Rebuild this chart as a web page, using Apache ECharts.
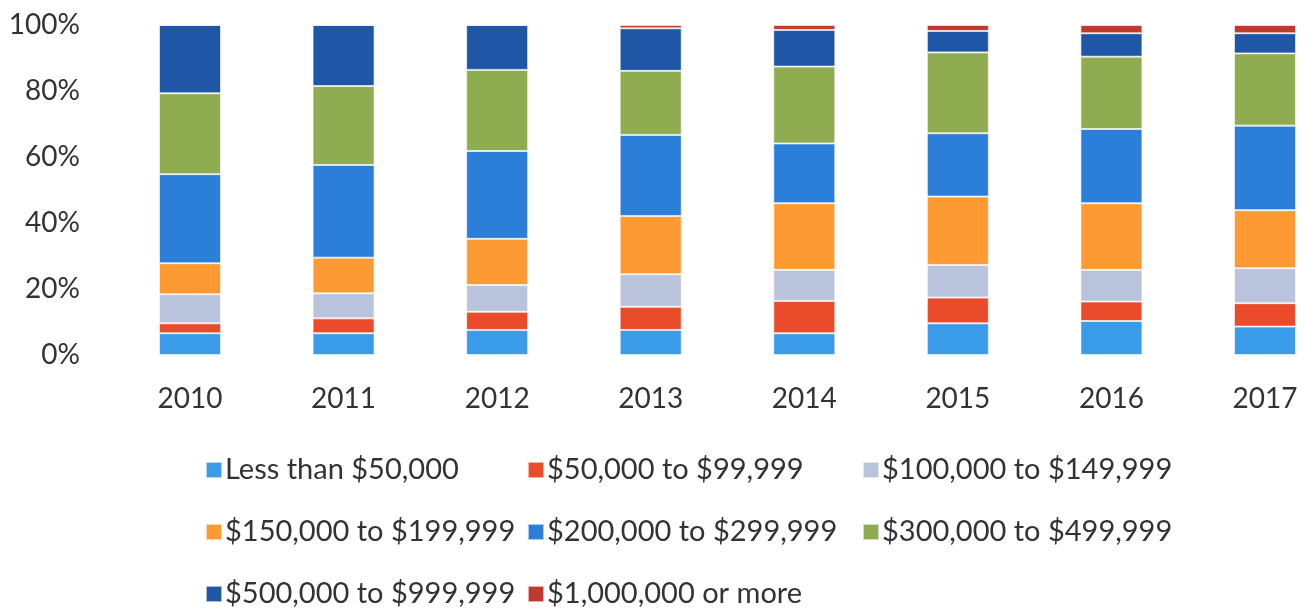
<!DOCTYPE html>
<html>
<head>
<meta charset="utf-8">
<script src="https://cdn.jsdelivr.net/npm/echarts@6/dist/echarts.min.js"></script>
<style>
  html, body { margin: 0; padding: 0; background: #fff; }
  #main { width: 1310px; height: 612px; }
</style>
</head>
<body>
<div id="main"></div>
<script>
// years on the x axis
const years = ['2010', '2011', '2012', '2013', '2014', '2015', '2016', '2017'];
// legend names, bottom of the stack first
const seriesNames = [
  'Less than $50,000', '$50,000 to $99,999', '$100,000 to $149,999',
  '$150,000 to $199,999', '$200,000 to $299,999', '$300,000 to $499,999',
  '$500,000 to $999,999', '$1,000,000 or more'
];
// share of each band per year (%)
const lessThan50k = [6.6, 6.6, 7.6, 7.6, 6.6, 9.6, 10.3, 8.6];
const from50k = [3.0, 4.5, 5.5, 7.0, 9.8, 7.8, 5.9, 7.1];
const from100k = [8.8, 7.6, 8.1, 9.9, 9.4, 9.9, 9.6, 10.6];
const from150k = [9.4, 10.8, 14.0, 17.6, 20.2, 20.7, 20.2, 17.6];
const from200k = [27.0, 28.1, 26.6, 24.6, 18.1, 19.2, 22.5, 25.6];
const from300k = [24.5, 23.9, 24.6, 19.4, 23.3, 24.5, 21.9, 21.9];
const from500k = [20.7, 18.5, 13.6, 12.9, 11.1, 6.5, 7.1, 6.1];
const over1m = [0, 0, 0, 1.0, 1.5, 1.8, 2.5, 2.5];
// y axis ticks
const yTicks = [0, 20, 40, 60, 80, 100];

const values = [lessThan50k, from50k, from100k, from150k, from200k, from300k, from500k, over1m];
const colors = ['#3a9be8', '#e94b2b', '#b9c3dc', '#fd9a33', '#2b7fd9', '#8fad50', '#1f57a6', '#c0392f'];

const font = 'Lato';
const textColor = '#333';

const myChart = echarts.init(document.getElementById('main'));

// three legend columns like the Excel layout
const legendCol = (names, left) => ({
  orient: 'vertical',
  left: left,
  top: 453,
  padding: 0,
  itemWidth: 16,
  itemHeight: 16,
  itemGap: 28,
  icon: 'rect',
  textStyle: { fontFamily: font, fontSize: 29, color: textColor, lineHeight: 34, padding: [0, 0, 0, -2] },
  data: names
});

// the last column runs past the right edge, so centre bars on the ticks
myChart.setOption({
  animation: false,
  color: colors,
  grid: { left: 190, top: 25, width: 1075, height: 330, containLabel: false },
  legend: [
    legendCol([seriesNames[0], seriesNames[3], seriesNames[6]], 205),
    legendCol([seriesNames[1], seriesNames[4], seriesNames[7]], 527),
    legendCol([seriesNames[2], seriesNames[5]], 862)
  ],
  xAxis: {
    type: 'category',
    data: years,
    boundaryGap: false,
    axisLine: { show: false },
    axisTick: { show: false },
    axisLabel: { fontFamily: font, fontSize: 28, color: textColor, margin: 30 }
  },
  yAxis: {
    type: 'value',
    min: yTicks[0],
    max: yTicks[yTicks.length - 1],
    interval: 20,
    axisLine: { show: false },
    axisTick: { show: false },
    splitLine: { show: false },
    axisLabel: { fontFamily: font, fontSize: 28, color: textColor, margin: 110, formatter: '{value}%' }
  },
  series: seriesNames.map((name, i) => ({
    name: name,
    type: 'bar',
    stack: 'total',
    clip: false,
    barWidth: 62,
    itemStyle: { borderColor: 'rgba(255,255,255,0.6)', borderWidth: 1 },
    data: values[i]
  }))
});
</script>
</body>
</html>
